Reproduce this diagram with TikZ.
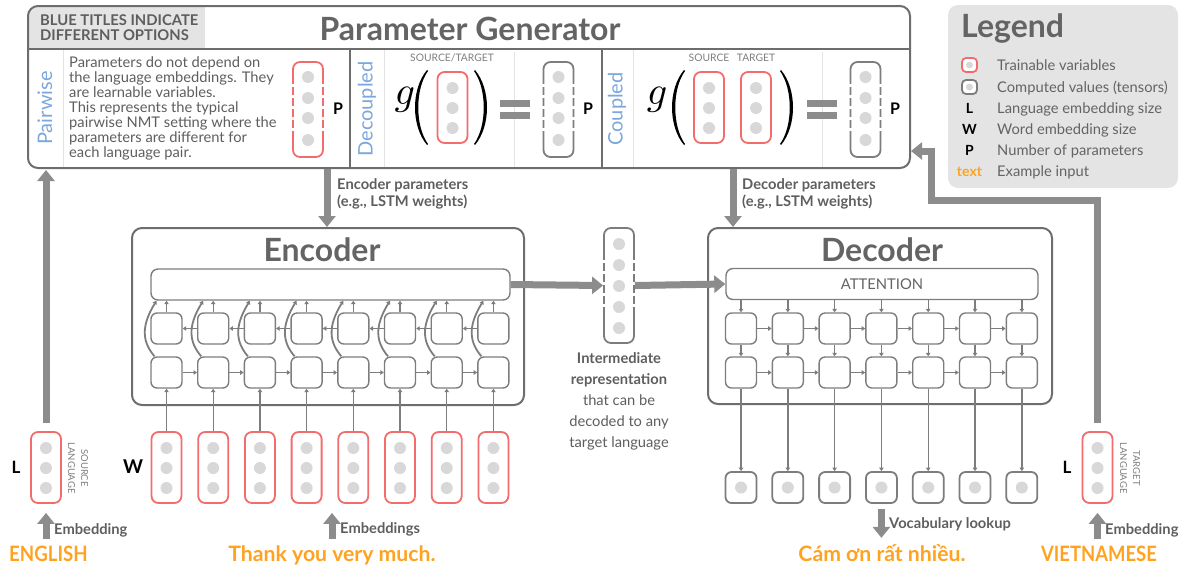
\documentclass[tikz,border=0pt]{standalone}
\usepackage{fontspec}
\setmainfont{Lato}
\usetikzlibrary{arrows.meta,calc,positioning}

\definecolor{framegray}{HTML}{6D6D6D}
\definecolor{cellgray}{HTML}{7D7D7D}
\definecolor{dotgray}{HTML}{D8D8D8}
\definecolor{trainred}{HTML}{F36C6C}
\definecolor{optblue}{HTML}{7BA7DC}
\definecolor{textgray}{HTML}{5E5E5E}
\definecolor{titlegray}{HTML}{646464}
\definecolor{labelfill}{HTML}{E4E4E4}
\definecolor{arrowgray}{HTML}{8C8C8C}
\definecolor{lightline}{HTML}{E3E3E3}
\definecolor{inputorange}{HTML}{FFA21F}

\tikzset{
  bigbox/.style={draw=framegray, line width=2pt, rounded corners=10pt, inner sep=0pt},
  cellbox/.style={draw=cellgray, line width=1.4pt, rounded corners=6pt, minimum width=31pt, minimum height=31pt, inner sep=0pt},
  barbox/.style={draw=cellgray, line width=1.4pt, rounded corners=7pt, minimum height=31pt, inner sep=0pt},
  trainvec/.style={draw=trainred, line width=1.8pt, rounded corners=7pt, minimum width=30pt, inner sep=0pt, fill=white},
  compvec/.style={draw=cellgray, line width=1.8pt, rounded corners=7pt, minimum width=30pt, inner sep=0pt, fill=white},
  fatarrow/.style={draw=arrowgray, line width=7pt, -{Triangle[width=17pt,length=11pt]}},
  smallarrow/.style={draw=cellgray, line width=1.4pt, -{Triangle[width=4.5pt,length=3.5pt]}},
  optlabel/.style={text=optblue, rotate=90, inner sep=0pt, font=\fontsize{20}{20}\selectfont},
  bodytext/.style={text=textgray, inner sep=0pt, font=\fontsize{14.7}{15}\selectfont},
  boldnote/.style={text=textgray, inner sep=0pt, font=\bfseries\fontsize{14.7}{17}\selectfont},
  sizelabel/.style={inner sep=0pt, font=\bfseries\fontsize{17}{17}\selectfont},
  tinycaps/.style={text=textgray!80, inner sep=0pt, font=\fontsize{10.3}{13}\selectfont},
  inputword/.style={text=inputorange, inner sep=0pt, font=\bfseries\fontsize{21.2}{21}\selectfont},
  bigtitle/.style={text=titlegray, inner sep=0pt, font=\bfseries\fontsize{32}{32}\selectfont},
}

\begin{document}
\begin{tikzpicture}[x=1pt,y=-1pt]
\useasboundingbox (0,0) rectangle (1182,566);

% Parameter generator: header label and frame
\begin{scope}
  \clip (28,6) rectangle (205,49);
  \fill[labelfill, rounded corners=10pt] (28,6) rectangle (240,90);
\end{scope}
\node[bigbox, minimum width=882pt, minimum height=162pt] (pg) at (469,87) {};
\node[boldnote, align=left, anchor=west, font=\bfseries\fontsize{14.8}{15}\selectfont] (pgnote) at (40,27.5) {BLUE TITLES INDICATE\\DIFFERENT OPTIONS};
\node[bigtitle, anchor=base] (pgtitle) at (470,40) {Parameter Generator};

% Light separators of the option columns
\foreach \x in {63,384,633}
  \draw[lightline, line width=1pt] (\x,50) -- (\x,167);
\foreach \x in {514,822}
  \draw[lightline, line width=1pt] (\x,52) -- (\x,167);
% Dark separators
\draw[framegray, line width=2pt] (28,49) -- (910,49);
\foreach \x in {350,602}
  \draw[framegray, line width=2pt] (\x,49) -- (\x,168);

% Pairwise option
\node[optlabel] (pairlbl) at (45,108) {Pairwise};
\node[bodytext, align=left, anchor=west] (pairtext) at (69,108) {Parameters do not depend on\\the language embeddings. They\\are learnable variables.\\This represents the typical\\pairwise NMT setting where the\\parameters are different for\\each language pair.};
\node[trainvec, minimum height=95pt] (pairP) at (308,109.5) {};
\foreach \y in {77,98,118,140}
  \fill[dotgray] (308,\y) circle (6pt);
\node[sizelabel, anchor=base, font=\bfseries\fontsize{16}{16}\selectfont] (pairPlbl) at (338,114) {P};

% Decoupled option
\node[optlabel] (declbl) at (367,109) {Decoupled};
\node[tinycaps] (decsrc) at (452,58) {SOURCE/TARGET};
\node[anchor=base] (decg) at (405,104) {\scalebox{4}{$g$}};
\node[trainvec, minimum height=71pt] (decin) at (452.5,107.5) {};
\foreach \y in {88,108,128}
  \fill[dotgray] (452.5,\y) circle (6pt);
\node[compvec, minimum height=95pt] (decP) at (558.5,109.5) {};
\foreach \y in {77,98,118,140}
  \fill[dotgray] (558.5,\y) circle (6pt);
\node[sizelabel, anchor=base, font=\bfseries\fontsize{16}{16}\selectfont] (decPlbl) at (588,114) {P};

% Coupled option
\node[optlabel] (couplbl) at (617,109) {Coupled};
\node[tinycaps] (coupsrc) at (709,58) {SOURCE};
\node[tinycaps] (couptgt) at (756,58) {TARGET};
\node[anchor=base] (coupg) at (657,104) {\scalebox{4}{$g$}};
\foreach \x in {709,756}{
  \node[trainvec, minimum height=71pt] (coupin\x) at (\x,107.5) {};
  \foreach \y in {88,108,128}
    \fill[dotgray] (\x,\y) circle (6pt);
}
\node[compvec, minimum height=95pt] (coupP) at (865.5,109.5) {};
\foreach \y in {77,98,118,140}
  \fill[dotgray] (865.5,\y) circle (6pt);
\node[sizelabel, anchor=base, font=\bfseries\fontsize{16}{16}\selectfont] (coupPlbl) at (895,114) {P};

% Parentheses round the inputs of g
\foreach \px in {415,672}  % left ones
  \fill (\px+12,70) .. controls (\px-4,89) and (\px-4,126) .. (\px+12,145) -- (\px+13,144) .. controls (\px,126) and (\px,89) .. (\px+13,71) -- cycle;
\foreach \px in {487,793}  % right ones
  \fill (\px-12,70) .. controls (\px+4,89) and (\px+4,126) .. (\px-12,145) -- (\px-13,144) .. controls (\px,126) and (\px,89) .. (\px-13,71) -- cycle;

% Equal signs
\foreach \x in {500,807}{
  \fill[arrowgray] (\x,100) rectangle (\x+30,106.5);
  \fill[arrowgray] (\x,112) rectangle (\x+30,118.5);
}

% Gaps in the sides of the parameter vectors
\foreach \v in {pairP,decP,coupP}{
  \draw[white, line width=4pt, dash pattern=on 3pt off 8pt] ($(\v.north west)+(0,23)$) -- ($(\v.south west)+(0,-22)$);
  \draw[white, line width=4pt, dash pattern=on 3pt off 8pt] ($(\v.north east)+(0,23)$) -- ($(\v.south east)+(0,-22)$);
}

% Legend
\node[fill=labelfill, rounded corners=10pt, minimum width=230pt, minimum height=183pt, inner sep=0pt] (legend) at (1063,96.5) {};
\node[bigtitle, anchor=base west] (legtitle) at (961,37) {Legend};
\node[trainvec, minimum width=15pt, minimum height=14pt, rounded corners=4pt] (legtrain) at (969.5,65) {};
\fill[dotgray] (legtrain) circle (3.5pt);
\node[compvec, minimum width=15pt, minimum height=14pt, rounded corners=4pt] (legcomp) at (969.5,87) {};
\fill[dotgray] (legcomp) circle (3.5pt);
\node[sizelabel, anchor=base, font=\bfseries\fontsize{14}{14}\selectfont] (legL) at (969.5,113) {L};
\node[sizelabel, anchor=base, font=\bfseries\fontsize{14}{14}\selectfont] (legW) at (969.5,134) {W};
\node[sizelabel, anchor=base, font=\bfseries\fontsize{14}{14}\selectfont] (legP) at (969.5,155) {P};
\node[inputword, anchor=base, font=\bfseries\fontsize{14}{14}\selectfont] (legtext) at (969.5,176) {text};
\foreach \y/\txt in {70/Trainable variables, 92/Computed values (tensors), 113/Language embedding size, 134/Word embedding size, 155/Number of parameters, 176/Example input}
  \node[bodytext, text=titlegray, anchor=base west] at (997,\y) {\txt};

% Encoder
\node[bigbox, minimum width=392pt, minimum height=177pt] (enc) at (328,316.5) {};
\node[bigtitle, anchor=base] (enctitle) at (322,261) {Encoder};
\node[barbox, minimum width=359pt] (encbar) at (330.5,284.5) {};
\foreach \i in {0,...,7}{
  \pgfmathsetmacro\cx{166.5+46.7*\i}
  \node[cellbox] (eT\i) at (\cx,328.5) {};  % backward layer
  \node[cellbox] (eB\i) at (\cx,372.5) {};  % forward layer
  \node[trainvec, minimum height=71pt] (emb\i) at (\cx,467.5) {};  % word embedding
  \foreach \y in {448,468,488}
    \fill[dotgray] (\cx,\y) circle (6pt);
}
\foreach \i [evaluate=\i as \j using int(\i+1)] in {0,...,6}{
  \draw[smallarrow] (eB\i.east) -- (eB\j.west);
  \draw[smallarrow] (eT\j.west) -- (eT\i.east);
}
\foreach \i in {0,...,7}{
  \draw[smallarrow] (emb\i.north) -- (eB\i.south);
  \draw[smallarrow] (eT\i.north) -- (eT\i.north |- encbar.south);
  \draw[smallarrow, line width=1.8pt] ($(eB\i.north)+(-12,0)$) .. controls +(-12,-14) and +(-16,26) .. ($(eB\i.north |- encbar.south)+(-10,0)$);  % skip round the backward cell
}

% Intermediate representation
\node[compvec, minimum height=115pt] (inter) at (619,285.5) {};
\foreach \k in {0,...,4}
  \fill[dotgray] (619,244+21*\k) circle (6pt);
\draw[white, line width=4pt, dash pattern=on 3pt off 8pt] ($(inter.north west)+(0,33)$) -- ($(inter.south west)+(0,-33)$);
\draw[white, line width=4pt, dash pattern=on 3pt off 8pt] ($(inter.north east)+(0,33)$) -- ($(inter.south east)+(0,-33)$);
\node[bodytext, align=center, font=\fontsize{14.7}{21}\selectfont] (intertext) at (619,401) {\textbf{Intermediate}\\\textbf{representation}\\that can be\\decoded to any\\target language};

% Decoder
\node[bigbox, minimum width=344pt, minimum height=176pt] (dec) at (880,316) {};
\node[bigtitle, anchor=base] (dectitle) at (882,261) {Decoder};
\node[barbox, minimum width=312pt, text=titlegray, font=\fontsize{14.8}{15}\selectfont] (att) at (882,284) {ATTENTION};
\foreach \i in {0,...,6}{
  \pgfmathsetmacro\cx{741+46.8*\i}
  \node[cellbox] (dT\i) at (\cx,328.5) {};
  \node[cellbox] (dB\i) at (\cx,372.5) {};
  \node[compvec, minimum width=31pt, minimum height=31pt, rounded corners=6pt] (out\i) at (\cx,487.5) {};  % output token
  \fill[dotgray] (\cx,487.5) circle (6pt);
}
\foreach \i [evaluate=\i as \j using int(\i+1)] in {0,...,5}{
  \draw[smallarrow] (dT\i.east) -- (dT\j.west);
  \draw[smallarrow] (dB\i.east) -- (dB\j.west);
}
\foreach \i in {0,...,6}{
  \draw[smallarrow] (dT\i.north |- att.south) -- (dT\i.north);
  \draw[smallarrow] (dT\i.south) -- (dB\i.north);
  \draw[smallarrow] (dB\i.south) -- (out\i.north);
}

% Thick arrows between the parts
\draw[fatarrow] (encbar.east) -- (inter.west);
\draw[fatarrow] (inter.east) -- (att.west);
\coordinate (encpar) at (327,169);
\coordinate (decpar) at (733,169);
\draw[fatarrow] (encpar) -- (encpar |- enc.north);
\draw[fatarrow] (decpar) -- (decpar |- dec.north);
\node[boldnote, align=left, anchor=north west] (encparlbl) at (337,178.5) {Encoder parameters\\(e.g., LSTM weights)};
\node[boldnote, align=left, anchor=north west] (decparlbl) at (742,178.5) {Decoder parameters\\(e.g., LSTM weights)};

% Source language
\node[trainvec, minimum height=71pt] (srcvec) at (46,467.5) {};
\foreach \y in {448,468,488}
  \fill[dotgray] (46,\y) circle (6pt);
\node[sizelabel, anchor=base] (srcL) at (16,473) {L};
\node[tinycaps, rotate=-90, align=center, font=\fontsize{9.5}{13}\selectfont] (srclbl) at (78,468) {SOURCE\\LANGUAGE};
\node[sizelabel, anchor=base, font=\bfseries\fontsize{19}{19}\selectfont] (embW) at (133,473) {W};
\draw[fatarrow, shorten <=8pt, shorten >=1pt] (srcvec.north) -- (srcvec.north |- pg.south);

% Target language
\node[trainvec, minimum height=71pt] (tgtvec) at (1097.5,467.5) {};
\foreach \y in {448,468,488}
  \fill[dotgray] (1097.5,\y) circle (6pt);
\node[sizelabel, anchor=base] (tgtL) at (1067,473) {L};
\node[tinycaps, rotate=-90, align=center, font=\fontsize{9.5}{13}\selectfont] (tgtlbl) at (1130,468) {TARGET\\LANGUAGE};
\coordinate (tgtbend) at (931,200);
\coordinate (pgin) at (911,151);
\draw[fatarrow, shorten <=8pt] (tgtvec.north) |- (tgtbend) |- (pgin);

% Example input
\node[inputword, anchor=base west] (srcword) at (9,561) {\scalebox{0.88}[1]{ENGLISH}};
\node[inputword, anchor=base] (sentword) at (332,561) {Thank you very much.};
\node[inputword, anchor=base] (outword) at (882,561) {Cám ơn rất nhiều.};
\node[inputword, anchor=base] (tgtword) at (1099,561) {\scalebox{0.87}[1]{VIETNAMESE}};
\draw[fatarrow, shorten <=6pt, shorten >=9pt] (srcvec.south |- srcword.north) -- (srcvec.south);
\draw[fatarrow, shorten <=6pt, shorten >=9pt] (sentword.north) -- (sentword.north |- emb3.south);
\draw[fatarrow, shorten <=5pt, shorten >=6pt] (out3.south) -- (out3.south |- outword.north);
\draw[fatarrow, shorten <=6pt, shorten >=9pt] (tgtvec.south |- tgtword.north) -- (tgtvec.south);
\node[boldnote, anchor=base west] (srcemb) at (54,534) {Embedding};
\node[boldnote, anchor=base west] (sentemb) at (340,533) {Embeddings};
\node[boldnote, anchor=base west] (vocab) at (889,528) {Vocabulary lookup};
\node[boldnote, anchor=base west] (tgtemb) at (1105,534) {Embedding};
\end{tikzpicture}
\end{document}
